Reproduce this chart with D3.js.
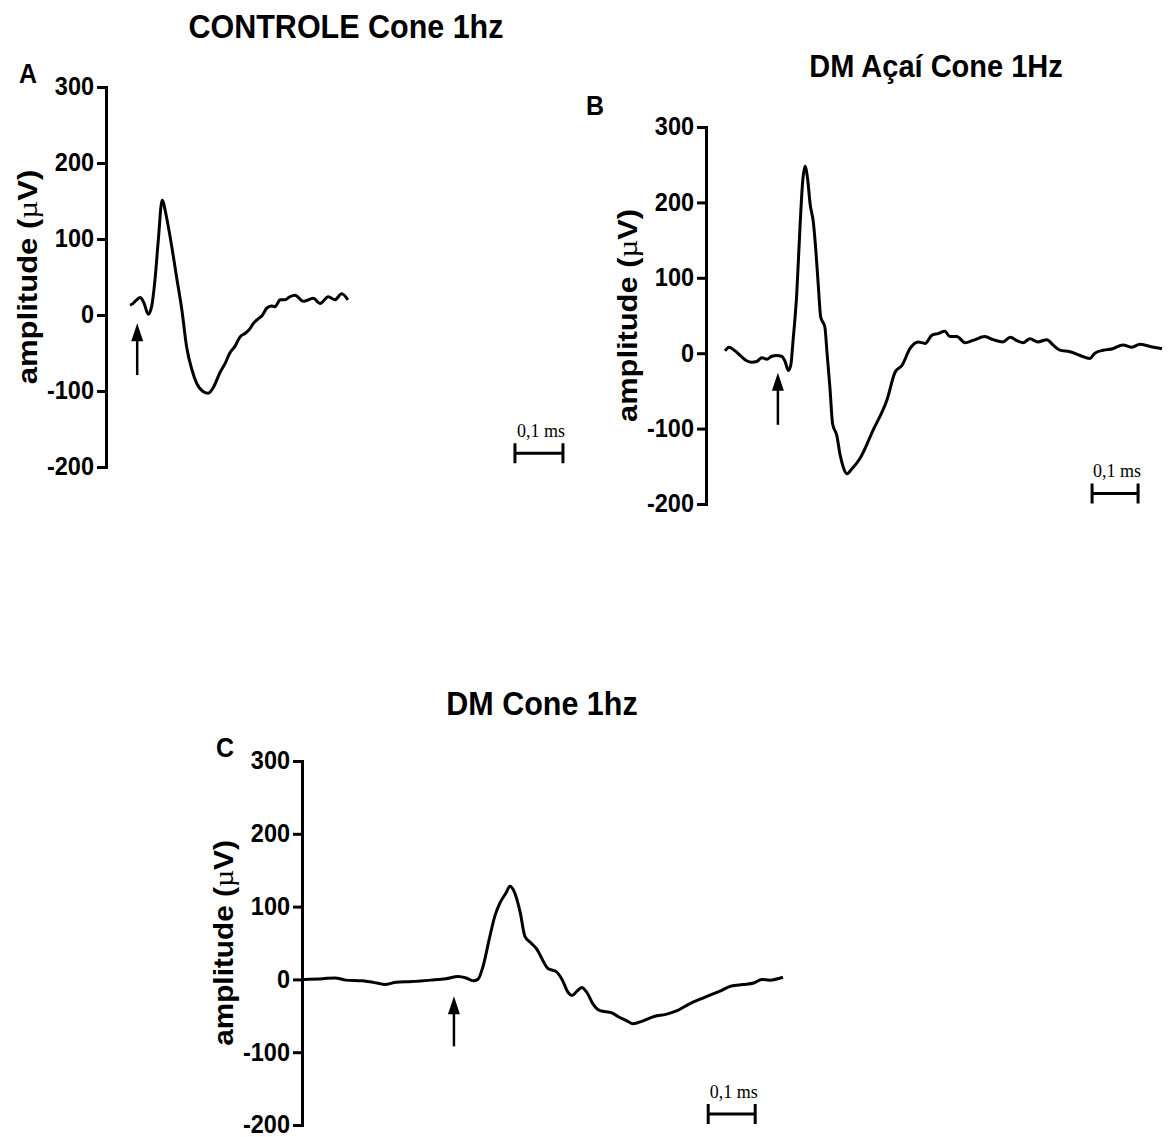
<!DOCTYPE html>
<html>
<head>
<meta charset="utf-8">
<script src="https://cdn.jsdelivr.net/npm/d3@7"></script>
<style>
  body { margin: 0; background: #fff; }
  text { font-family: "Liberation Sans", Arial, sans-serif; font-weight: bold; fill: #000; }
</style>
</head>
<body>
<div id="chart"></div>
<script>
// y ticks shared by all panels (µV)
var yTicks = [-200, -100, 0, 100, 200, 300];

// A - CONTROLE Cone 1hz (time in ms, amplitude in µV)
var timeA = [0, 0.006, 0.014, 0.021, 0.029, 0.038, 0.045, 0.052, 0.059, 0.067, 0.076, 0.087, 0.097,
  0.108, 0.118, 0.129, 0.139, 0.153, 0.163, 0.173, 0.188, 0.198, 0.208, 0.219, 0.229, 0.240, 0.250,
  0.257, 0.267, 0.275, 0.285, 0.294, 0.302, 0.313, 0.323, 0.333, 0.344, 0.361, 0.382, 0.396, 0.413,
  0.427, 0.441, 0.454];
var ampA = [13, 15, 20, 23, 16, 1, 11, 46, 99, 151, 129, 90, 50,
  7, -42, -72, -90, -101, -103, -96, -75, -64, -50, -41, -29, -24, -18,
  -11, -5, -1, 9, 12, 11, 20, 20, 24, 26, 18, 22, 15, 24,
  20, 28, 20];

// B - DM Açaí Cone 1Hz
var timeB = [0, 0.009, 0.022, 0.033, 0.047, 0.058, 0.069, 0.080, 0.091, 0.102, 0.112, 0.123, 0.130,
  0.138, 0.143, 0.148, 0.156, 0.163, 0.169, 0.174, 0.180, 0.185, 0.192, 0.198, 0.203, 0.208, 0.217,
  0.222, 0.228, 0.234, 0.243, 0.250, 0.257, 0.265, 0.275, 0.293, 0.322, 0.352, 0.370, 0.385, 0.402,
  0.420, 0.435, 0.450, 0.463, 0.478, 0.489, 0.504, 0.522, 0.539, 0.565, 0.583, 0.604, 0.620, 0.637,
  0.648, 0.663, 0.680, 0.700, 0.713, 0.728, 0.750, 0.772, 0.793, 0.804, 0.822, 0.843, 0.865, 0.885,
  0.902, 0.924, 0.950];
var ampB = [3, 8, 3, -3, -10, -12, -11, -6, -8, -4, -3, -4, -10,
  -23, -16, 17, 79, 167, 229, 248, 229, 198, 174, 132, 88, 48, 35,
  -1, -45, -94, -109, -134, -151, -160, -154, -140, -102, -62, -25, -16, 6,
  15, 13, 24, 26, 29, 22, 22, 14, 17, 22, 18, 15, 21, 16,
  14, 19, 15, 18, 11, 4, 2, -3, -7, 0, 4, 6, 11, 8,
  12, 9, 6];

// C - DM Cone 1hz
var timeC = [0, 0.040, 0.066, 0.089, 0.123, 0.155, 0.172, 0.196, 0.230, 0.270, 0.302, 0.328, 0.345,
  0.360, 0.370, 0.381, 0.394, 0.406, 0.417, 0.430, 0.438, 0.447, 0.460, 0.470, 0.483, 0.496, 0.509,
  0.519, 0.536, 0.549, 0.562, 0.570, 0.581, 0.591, 0.602, 0.615, 0.630, 0.655, 0.668, 0.687, 0.700,
  0.721, 0.745, 0.770, 0.794, 0.819, 0.851, 0.885, 0.909, 0.934, 0.957, 0.974, 0.991, 1.019];
var ampC = [0, 1, 2, -1, -2, -5, -7, -4, -3, -1, 1, 4, 2,
  -2, 0, 18, 55, 87, 105, 119, 128, 121, 92, 59, 50, 41, 25,
  15, 11, 0, -18, -22, -16, -11, -18, -34, -43, -46, -51, -57, -61,
  -57, -51, -48, -43, -34, -25, -16, -9, -7, -5, 0, -1, 3];

var panels = [
  { letter: "A", title: "CONTROLE Cone 1hz", time: timeA, amp: ampA,
    axisX: 106, top: 87, bottom: 467, x0: 130, pxPerMs: 480,
    titleX: 346, titleY: 38, titleSize: 30.5, letterX: 28, letterY: 83,
    arrow: { t: 0.015, tip: -11, base: -79 }, bar: { t: 0.802, v: -182 } },
  { letter: "B", title: "DM Açaí Cone 1Hz", time: timeB, amp: ampB,
    axisX: 706, top: 127, bottom: 504, x0: 725, pxPerMs: 460,
    titleX: 936, titleY: 77, titleSize: 29, letterX: 595, letterY: 115,
    arrow: { t: 0.115, tip: -26, base: -95 }, bar: { t: 0.798, v: -186 } },
  { letter: "C", title: "DM Cone 1hz", time: timeC, amp: ampC,
    axisX: 302, top: 761, bottom: 1125, x0: 304, pxPerMs: 470,
    titleX: 542, titleY: 715, titleSize: 30.5, letterX: 225, letterY: 757,
    arrow: { t: 0.319, tip: -23, base: -92 }, bar: { t: 0.860, v: -185 } }
];

var svg = d3.select("#chart")
  .append("svg")
  .attr("width", 1173)
  .attr("height", 1137);

panels.forEach(function (p) {
  var x = d3.scaleLinear().domain([0, 1]).range([p.x0, p.x0 + p.pxPerMs]);
  var y = d3.scaleLinear().domain([-200, 300]).range([p.bottom, p.top]);
  var g = svg.append("g");

  // title + panel letter (figure was stretched vertically a bit)
  g.append("text")
    .attr("transform", "translate(" + p.titleX + "," + p.titleY + ") scale(1,1.06)")
    .attr("text-anchor", "middle")
    .style("font-size", p.titleSize + "px")
    .text(p.title);
  g.append("text")
    .attr("transform", "translate(" + p.letterX + "," + p.letterY + ") scale(1,1.1)")
    .attr("text-anchor", "middle")
    .style("font-size", "25px")
    .text(p.letter);

  // y axis (plain hyphen for negatives, like the original)
  var yAxis = d3.axisLeft(y)
    .tickValues(yTicks)
    .tickFormat(function (d) { return String(d); })
    .tickSize(9).tickSizeOuter(0).tickPadding(3);
  var ax = g.append("g")
    .attr("transform", "translate(" + p.axisX + ",0)")
    .call(yAxis);
  ax.select(".domain").attr("stroke", "#000").attr("stroke-width", 3).attr("stroke-linecap", "square");
  ax.selectAll(".tick line").attr("stroke", "#000").attr("stroke-width", 3);
  ax.selectAll(".tick text")
    .attr("transform", "scale(1,1.12)")
    .attr("dy", "0.3em")
    .style("font-size", "23.5px")
    .style("font-family", "'Liberation Sans', Arial, sans-serif")
    .style("font-weight", "bold")
    .attr("fill", "#000");

  // axis title
  var midY = (p.top + p.bottom) / 2;
  var lab = g.append("text")
    .attr("transform", "translate(" + (p.axisX - 69) + "," + midY + ") rotate(-90)")
    .attr("text-anchor", "middle")
    .attr("textLength", 0.565 * (p.bottom - p.top))
    .attr("lengthAdjust", "spacingAndGlyphs")
    .style("font-size", "27px");
  lab.append("tspan").text("amplitude (");
  lab.append("tspan").style("font-family", "'Liberation Serif', serif").style("font-weight", "normal").text("µ");
  lab.append("tspan").text("V)");

  // trace
  var line = d3.line()
    .x(function (d, i) { return x(p.time[i]); })
    .y(function (d) { return y(d); })
    .curve(d3.curveMonotoneX);
  g.append("path")
    .datum(p.amp)
    .attr("d", line)
    .attr("fill", "none")
    .attr("stroke", "#000")
    .attr("stroke-width", 3)
    .attr("stroke-linejoin", "round");

  // stimulus arrow
  var ax0 = x(p.arrow.t), tipY = y(p.arrow.tip), baseY = y(p.arrow.base);
  g.append("line")
    .attr("x1", ax0).attr("x2", ax0)
    .attr("y1", baseY).attr("y2", tipY + 10)
    .attr("stroke", "#000").attr("stroke-width", 2.5);
  g.append("path")
    .attr("d", "M" + ax0 + "," + tipY + "L" + (ax0 + 6) + "," + (tipY + 18) + "L" + (ax0 - 6) + "," + (tipY + 18) + "Z")
    .attr("fill", "#000");

  // 0,1 ms scale bar
  var bx1 = x(p.bar.t), bx2 = x(p.bar.t + 0.1), by = y(p.bar.v);
  g.append("path")
    .attr("d", "M" + bx1 + "," + (by - 10) + "V" + (by + 10) + "M" + bx1 + "," + by + "H" + bx2 +
      "M" + bx2 + "," + (by - 10) + "V" + (by + 10))
    .attr("fill", "none")
    .attr("stroke", "#000")
    .attr("stroke-width", 3);
  g.append("text")
    .attr("x", (bx1 + bx2) / 2 + 2)
    .attr("y", by - 16)
    .attr("text-anchor", "middle")
    .style("font-family", "'Liberation Serif', 'Times New Roman', serif")
    .style("font-weight", "normal")
    .style("font-size", "18px")
    .text("0,1 ms");
});
</script>
</body>
</html>
